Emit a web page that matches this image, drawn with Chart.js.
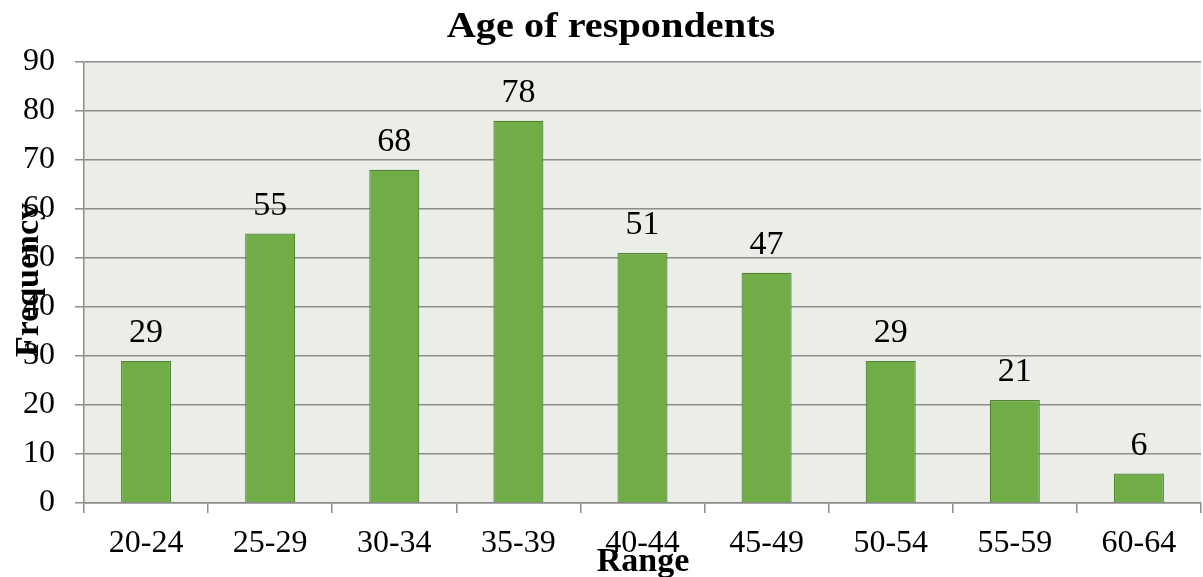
<!DOCTYPE html>
<html>
<head>
<meta charset="utf-8">
<script src="https://cdn.jsdelivr.net/npm/chart.js@4/dist/chart.umd.min.js"></script>
<style>
  html, body { margin: 0; padding: 0; background: #ffffff; }
  #wrap { width: 1203px; height: 577px; position: relative; }
</style>
</head>
<body>
<div id="wrap"><canvas id="c" width="1203" height="577"></canvas></div>
<script>
// Age groups and number of respondents in each
const ageRanges = ['20-24', '25-29', '30-34', '35-39', '40-44', '45-49', '50-54', '55-59', '60-64'];
const frequencies = [29, 55, 68, 78, 51, 47, 29, 21, 6];
const yTicks = [0, 10, 20, 30, 40, 50, 60, 70, 80, 90];

const chartTitle = 'Age of respondents';
const xTitle = 'Range';
const yTitle = 'Frequency';

const SERIF = '"Liberation Serif", "Times New Roman", serif';
const GRID = '#8c8c8c';

// Fills the plot area, then writes titles and value labels on top
const decor = {
  id: 'decor',
  beforeDraw(chart) {
    const { ctx, chartArea: a } = chart;
    ctx.save();
    ctx.fillStyle = '#eaeee6';
    ctx.fillRect(a.left, a.top, a.right - a.left, a.bottom - a.top);
    ctx.restore();
  },
  afterDraw(chart) {
    const { ctx } = chart;
    ctx.save();
    ctx.fillStyle = '#000000';
    ctx.textAlign = 'center';
    ctx.textBaseline = 'alphabetic';
    // chart title, set slightly wide
    ctx.save();
    ctx.font = 'bold 36px ' + SERIF;
    ctx.translate(611, 37);
    ctx.scale(1.12, 1);
    ctx.fillText(chartTitle, 0, 0);
    ctx.restore();
    // value labels above each bar
    ctx.font = '34px ' + SERIF;
    const meta = chart.getDatasetMeta(0);
    meta.data.forEach((bar, i) => {
      ctx.fillText(String(frequencies[i]), bar.x, bar.y - 19);
    });
    // x axis title
    ctx.font = 'bold 34px ' + SERIF;
    ctx.fillText(xTitle, 643, 571);
    // y axis title, rotated
    ctx.translate(38, 280);
    ctx.rotate(-Math.PI / 2);
    ctx.fillText(yTitle, 0, 0);
    ctx.restore();
  }
};

new Chart(document.getElementById('c'), {
  type: 'bar',
  data: {
    labels: ageRanges,
    datasets: [{
      data: frequencies,
      backgroundColor: '#70ad47',
      borderColor: '#548235',
      borderWidth: 1.2,
      categoryPercentage: 1,
      barPercentage: 0.403
    }]
  },
  options: {
    responsive: false,
    animation: false,
    events: [],
    layout: { padding: { top: 62, right: 2, left: 0, bottom: 0 } },
    plugins: {
      legend: { display: false },
      title: { display: false },
      tooltip: { enabled: false }
    },
    scales: {
      x: {
        afterFit(s) { s.height = 74; },
        grid: {
          offset: true,
          drawOnChartArea: false,
          drawTicks: true,
          tickLength: 10,
          color: GRID,
          lineWidth: 1.5
        },
        border: { display: true, color: GRID, width: 1.5 },
        ticks: {
          color: '#000000',
          padding: 11,
          font: { family: SERIF, size: 32 }
        }
      },
      y: {
        min: 0,
        max: 90,
        afterFit(s) { s.width = 84; },
        afterBuildTicks(s) { s.ticks = yTicks.map(v => ({ value: v })); },
        grid: {
          color: GRID,
          lineWidth: 1.5,
          drawTicks: true,
          tickLength: 9
        },
        border: { display: true, color: GRID, width: 1.5 },
        ticks: {
          color: '#000000',
          padding: 20,
          font: { family: SERIF, size: 32 }
        }
      }
    }
  },
  plugins: [decor]
});
</script>
</body>
</html>
